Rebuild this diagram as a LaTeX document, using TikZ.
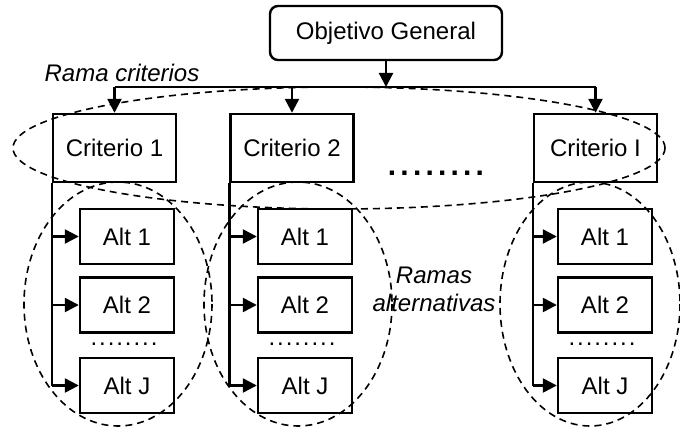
\documentclass[tikz,border=0pt]{standalone}
\usepackage{fontspec}
\setmainfont{Liberation Sans}
\usetikzlibrary{arrows.meta}
\begin{document}
\begin{tikzpicture}[x=1pt,y=-1pt,
  every node/.style={font=\fontsize{24}{28}\selectfont},
  box/.style={draw,line width=2.4pt,inner sep=0pt},
  goalbox/.style={box,rounded corners=8pt,minimum width=232,minimum height=54},
  critbox/.style={box,minimum width=123,minimum height=68},
  altbox/.style={box,minimum width=94,minimum height=55},
  link/.style={line width=2.4pt},
  arr/.style={link,-{Triangle[length=14pt,width=14pt]}},
  branch/.style={line width=1.6pt,dash pattern=on 7pt off 5pt},
  tag/.style={font=\fontsize{24}{28}\selectfont\itshape,inner sep=0pt}]
\useasboundingbox (0,0) rectangle (680,428);

% goal
\node[goalbox] (goal) at (386,33) {Objetivo General};

% criteria
\node[critbox] (c1) at (114.5,148) {Criterio 1};
\node[critbox] (c2) at (292,148) {Criterio 2};
\node[critbox] (cI) at (595.5,148) {Criterio I};
\node[inner sep=0pt,anchor=base,font=\fontsize{30}{32}\selectfont\bfseries\addfontfeatures{LetterSpace=14}] (cdots) at (436,175) {........};

% distribution bar
\coordinate (bar) at (386,87);
\draw[arr] (goal.south) -- (bar);
\draw[link] (c1.north |- bar) -- (cI.north |- bar);
\draw[arr] (c1.north |- bar) -- (c1.north);
\draw[arr] (c2.north |- bar) -- (c2.north);
\draw[arr] (cI.north |- bar) -- (cI.north);

% alternatives per criterion
\foreach \c/\x in {c1/127,c2/305,cI/605}{
  \node[altbox] (\c a1) at (\x,236.5) {Alt 1};
  \node[altbox] (\c a2) at (\x,305) {Alt 2};
  \node[altbox] (\c aJ) at (\x,385.5) {Alt J};
  \node[inner sep=0pt,anchor=base,font=\fontsize{24}{28}\selectfont\addfontfeatures{LetterSpace=8}] (\c dots) at (\x-3,345) {........};
  \draw[link] (\c.south west) -- (\c.south west |- \c aJ.west);
  \draw[arr] (\c.south west |- \c a1.west) -- (\c a1.west);
  \draw[arr] (\c.south west |- \c a2.west) -- (\c a2.west);
  \draw[arr] (\c.south west |- \c aJ.west) -- (\c aJ.west);
}

% branch groupings
\draw[branch] (339,148) ellipse [x radius=326, y radius=61];
\draw[branch] (118,304) ellipse [x radius=94, y radius=122];
\draw[branch] (298,304) ellipse [x radius=94, y radius=122];
\draw[branch] (590,304) ellipse [x radius=90, y radius=122];

\node[tag] (ramac) at (122,73) {Rama criterios};
\node[tag,align=center] (ramaa) at (434,289) {Ramas\\alternativas};
\end{tikzpicture}
\end{document}
